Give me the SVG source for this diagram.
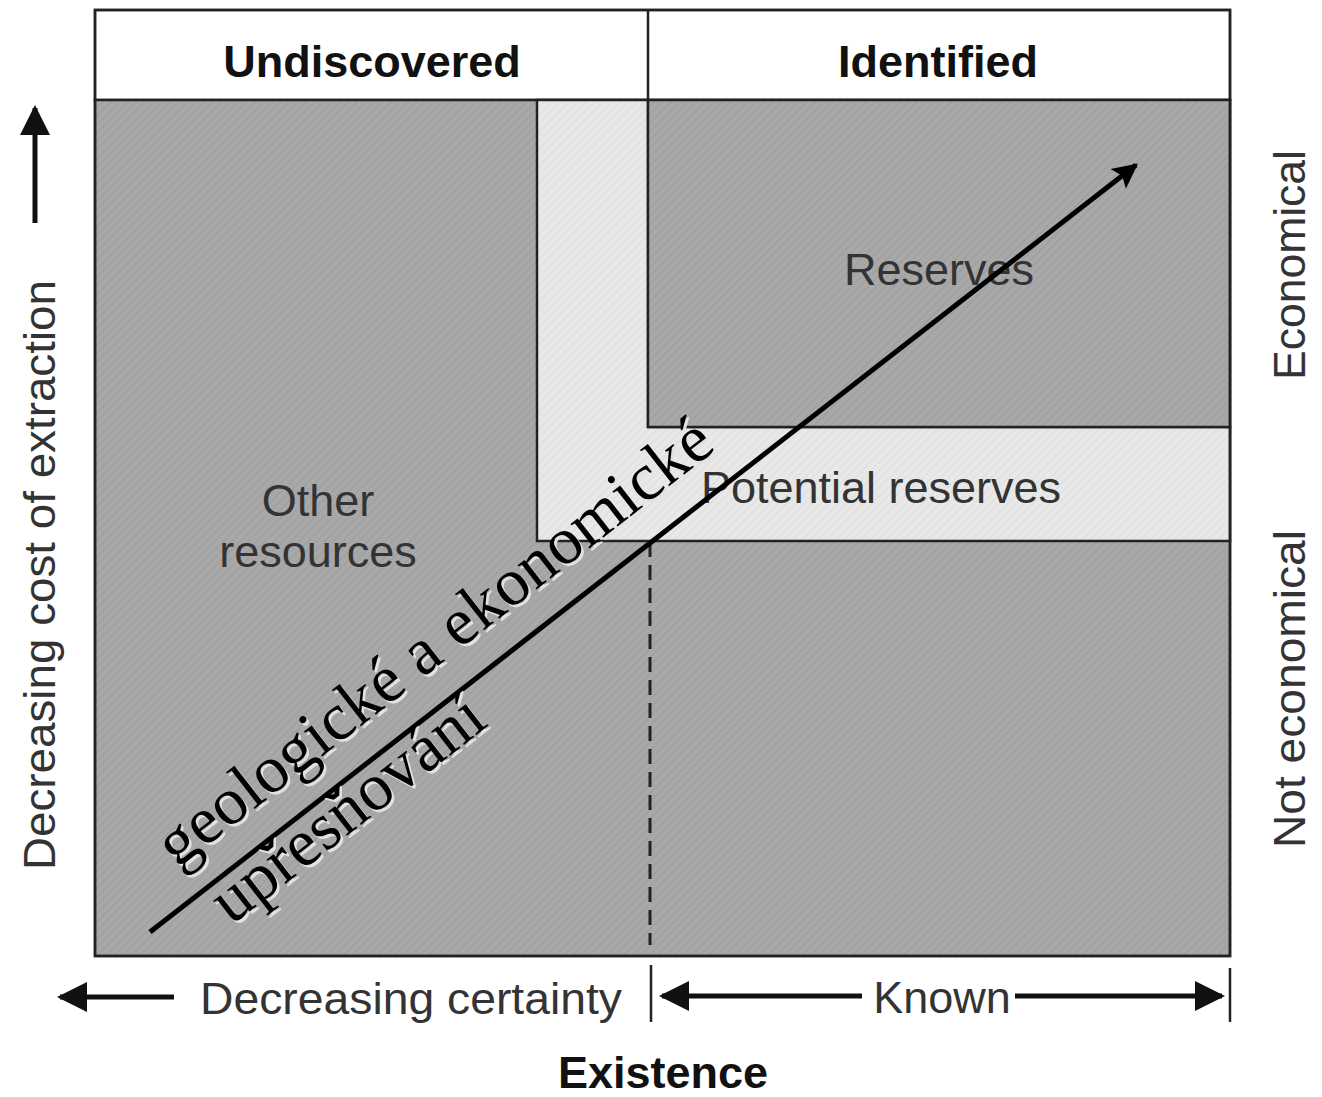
<svg xmlns="http://www.w3.org/2000/svg" width="1322" height="1097" viewBox="0 0 1322 1097">
<style>
.lbl{font-family:"Liberation Sans",Arial,sans-serif;font-size:45px;fill:#333;}
.hdr{font-family:"Liberation Sans",Arial,sans-serif;font-size:45px;font-weight:bold;fill:#111;}
.diag{font-family:"Liberation Serif","Times New Roman",serif;font-size:67px;fill:#000;}
.shadow{fill:#e2e2e2;}
.frame{stroke:#222;stroke-width:2.5;}
.conn{stroke:#000;fill:none;}
</style>
<defs>
<pattern id="hatch" width="6" height="6" patternUnits="userSpaceOnUse" patternTransform="rotate(45)">
<rect width="6" height="6" fill="#a8a8a8"/>
<line x1="0" y1="0" x2="0" y2="6" stroke="#9d9d9d" stroke-width="2"/>
</pattern>
<pattern id="hatchLight" width="6" height="6" patternUnits="userSpaceOnUse" patternTransform="rotate(45)">
<rect width="6" height="6" fill="#e8e8e8"/>
<line x1="0" y1="0" x2="0" y2="6" stroke="#dedede" stroke-width="2"/>
</pattern>
<marker id="ah" viewBox="0 0 10 10" refX="9" refY="5" markerWidth="6" markerHeight="5" markerUnits="strokeWidth" orient="auto">
<path d="M0,0 L10,5 L0,10 L2,5 z" fill="#000"/>
</marker>
<marker id="ah2" viewBox="0 0 10 10" refX="9" refY="5" markerWidth="9" markerHeight="6" markerUnits="strokeWidth" orient="auto">
<path d="M0,0 L10,5 L0,10 z" fill="#111"/>
</marker>
</defs>
<rect width="1322" height="1097" fill="#fff"/>

<g id="header">
<rect x="95" y="10" width="1135" height="90" fill="#fff" class="frame"/>
<line x1="648" y1="10" x2="648" y2="100" class="frame"/>
<text class="hdr" x="372" y="77" text-anchor="middle">Undiscovered</text>
<text class="hdr" x="938" y="77" text-anchor="middle">Identified</text>
</g>

<g id="other-resources">
<rect x="95" y="100" width="1135" height="856" fill="url(#hatch)" class="frame"/>
<text class="lbl" x="318" y="516" text-anchor="middle">Other</text>
<text class="lbl" x="318" y="567" text-anchor="middle">resources</text>
</g>

<g id="potential-reserves">
<polygon points="537,100 648,100 648,427 1230,427 1230,541 537,541" fill="url(#hatchLight)" class="frame"/>
<text class="lbl" x="881" y="503" text-anchor="middle">Potential reserves</text>
</g>

<g id="reserves">
<rect x="648" y="100" width="582" height="327" fill="url(#hatch)" class="frame"/>
<text class="lbl" x="939" y="285" text-anchor="middle">Reserves</text>
</g>

<rect x="95" y="10" width="1135" height="946" fill="none" class="frame"/>

<g id="axis-labels">
<text class="lbl" transform="translate(55,575) rotate(-90)" text-anchor="middle" textLength="590" lengthAdjust="spacingAndGlyphs">Decreasing cost of extraction</text>
<text class="lbl" transform="translate(1305,265) rotate(-90)" text-anchor="middle" textLength="230" lengthAdjust="spacingAndGlyphs">Economical</text>
<text class="lbl" transform="translate(1305,689) rotate(-90)" text-anchor="middle" textLength="318" lengthAdjust="spacingAndGlyphs">Not economical</text>
<text class="lbl" x="411" y="1014" text-anchor="middle" textLength="422" lengthAdjust="spacingAndGlyphs">Decreasing certainty</text>
<text class="lbl" x="942" y="1013" text-anchor="middle">Known</text>
<text class="hdr" x="663" y="1088" text-anchor="middle">Existence</text>
</g>

<g id="connectors">
<line x1="650" y1="542" x2="650" y2="945" stroke="#222" stroke-width="3" stroke-dasharray="15,8"/>
<line x1="35" y1="223" x2="35" y2="108" stroke="#111" stroke-width="5" marker-end="url(#ah2)"/>
<line x1="174" y1="997" x2="60" y2="997" stroke="#111" stroke-width="5" marker-end="url(#ah2)"/>
<line x1="651" y1="965" x2="651" y2="1022" stroke="#222" stroke-width="2.5"/>
<line x1="1230" y1="968" x2="1230" y2="1022" stroke="#222" stroke-width="2.5"/>
<line x1="862" y1="996" x2="662" y2="996" stroke="#111" stroke-width="5" marker-end="url(#ah2)"/>
<line x1="1015" y1="996" x2="1222" y2="996" stroke="#111" stroke-width="5" marker-end="url(#ah2)"/>
<line x1="150" y1="932" x2="1136" y2="165" class="conn" stroke-width="5" marker-end="url(#ah)"/>
</g>

<g id="refinement-label">
<g transform="translate(2.5,2.5) translate(150,932) rotate(-37.88)">
<text class="diag shadow" x="60" y="-33">geologické a ekonomické</text>
<text class="diag shadow" x="68" y="45">upřesňování</text>
</g>
<g transform="translate(150,932) rotate(-37.88)">
<text class="diag" x="60" y="-33">geologické a ekonomické</text>
<text class="diag" x="68" y="45">upřesňování</text>
</g>
</g>
</svg>
